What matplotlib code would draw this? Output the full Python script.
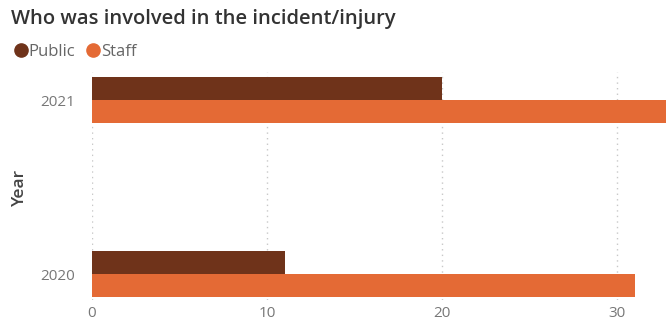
import matplotlib
matplotlib.use("Agg")
import matplotlib.pyplot as plt
from matplotlib.lines import Line2D
import numpy as np

years = ["2020", "2021"]
public = [11, 20]
staff = [31, 33]
series_names = ["Public", "Staff"]
colors = ["#6F331A", "#E46A35"]

plt.rcParams['font.family'] = ['Open Sans', 'DejaVu Sans']

W, H = 666, 320
fig = plt.figure(figsize=(W/100, H/100), dpi=100)
left, right, top, bottom = 92, 666, 72, 300
ax = fig.add_axes([left/W, 1-bottom/H, (right-left)/W, (bottom-top)/H])

y = np.arange(len(years))
h = 0.13
ax.barh(y + h/2, public, height=h, color=colors[0], edgecolor='none')
ax.barh(y - h/2, staff, height=h, color=colors[1], edgecolor='none')

ax.set_xlim(0, (right-left)/17.5)
y0 = (274-300)/174
y1 = (274-72)/174
ax.set_ylim(y0, y1)
ax.set_yticks(y)
ax.set_yticklabels(years)
ax.set_xticks([0, 10, 20, 30])
ax.tick_params(axis='both', length=0, colors='#777777', labelsize=11)
ax.tick_params(axis='y', pad=12)
ax.tick_params(axis='x', pad=4)
for s in ax.spines.values():
    s.set_visible(False)
ax.grid(axis='x', linestyle=(0, (1, 3)), color='#c8c8c8', linewidth=1)
ax.set_axisbelow(True)

fig.text(20/W, 1-187/H, "Year", rotation=90, ha='center', va='center',
         color='#444444', fontsize=12.5, fontweight='semibold')

fig.text(11/W, 1-19/H, "Who was involved in the incident/injury", ha='left', va='center',
         color='#333333', fontsize=14.5, fontweight='semibold')

handles = [Line2D([0], [0], marker='o', linestyle='none', markersize=9.5,
                  markerfacecolor=c, markeredgecolor=c) for c in colors]
leg = fig.legend(handles, series_names, loc='center left', bbox_to_anchor=(-4/W, 1-52/H),
                 frameon=False, ncol=2, handletextpad=-0.15, columnspacing=0.5,
                 fontsize=12, labelcolor='#666666', handlelength=1.2)

fig.savefig("out.png", dpi=100)
